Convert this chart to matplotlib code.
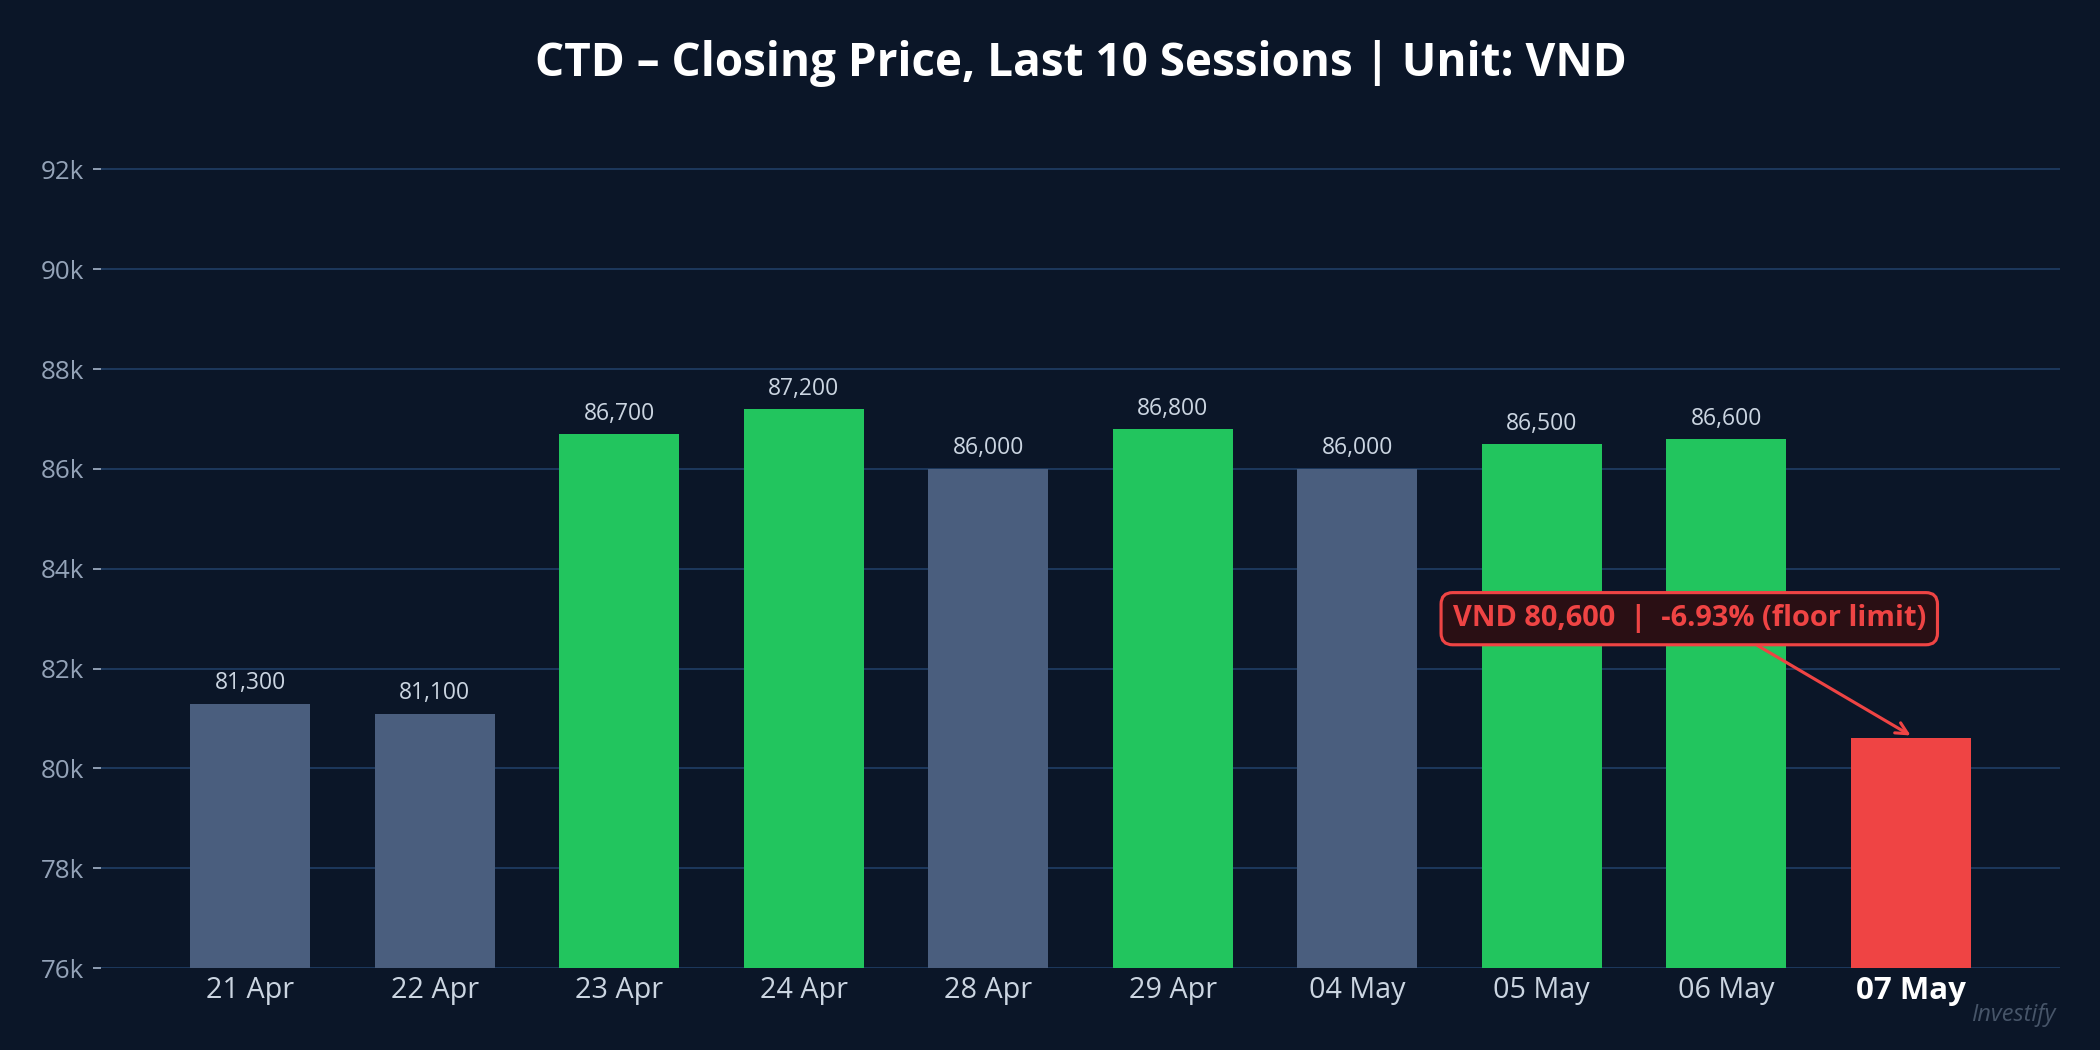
import matplotlib
matplotlib.use('Agg')
import matplotlib.pyplot as plt
from matplotlib.ticker import FuncFormatter

plt.rcParams['font.family'] = ['Open Sans', 'Noto Sans', 'DejaVu Sans']

# Datos: precio de cierre de CTD, últimas 10 sesiones
sesiones = ['21 Apr', '22 Apr', '23 Apr', '24 Apr', '28 Apr',
            '29 Apr', '04 May', '05 May', '06 May', '07 May']
cierre = [81300, 81100, 86700, 87200, 86000, 86800, 86000, 86500, 86600, 80600]
estado = ['flat', 'flat', 'up', 'up', 'flat', 'up', 'flat', 'up', 'up', 'down']
y_ticks = [76000, 78000, 80000, 82000, 84000, 86000, 88000, 90000, 92000]

fondo = '#0b1628'
colores = {'flat': '#4a5e7e', 'up': '#22c55e', 'down': '#ef4444'}

fig, ax = plt.subplots(figsize=(14, 7), dpi=150)
fig.patch.set_facecolor(fondo)
ax.set_facecolor(fondo)

x = list(range(len(sesiones)))
barras = ax.bar(x, cierre, width=0.65, color=[colores[e] for e in estado], zorder=3)

# Etiquetas de valor (menos la última, que va en la anotación)
for i, v in enumerate(cierre[:-1]):
    ax.text(i, v + 170, f'{v:,}', ha='center', va='bottom',
            fontsize=11, color='#cbd5e1', zorder=4)

ax.set_ylim(76000, 92450)
ax.set_xlim(-0.81, 9.81)
ax.set_yticks(y_ticks)
ax.yaxis.set_major_formatter(FuncFormatter(lambda v, p: f'{int(v / 1000)}k'))
ax.grid(axis='y', color='#1e3a5f', linewidth=0.9, zorder=0)
ax.set_axisbelow(True)

for s in ax.spines.values():
    s.set_visible(False)

ax.tick_params(axis='y', colors='#94a3b8', labelsize=12.5, length=4, width=0.9, pad=4)
ax.tick_params(axis='x', colors='#cbd5e1', labelsize=13.8, length=0, pad=4)
ax.set_xticks(x)
ax.set_xticklabels(sesiones)
ultima = ax.get_xticklabels()[-1]
ultima.set_fontweight('bold')
ultima.set_color('white')
ultima.set_fontsize(15)

ax.set_title('CTD – Closing Price, Last 10 Sessions | Unit: VND',
             fontsize=22, fontweight='bold', color='white', pad=34)

# Anotación del precio suelo
ax.annotate(f'VND {cierre[-1]:,}  |  -6.93% (floor limit)',
            xy=(9, cierre[-1] + 60), xytext=(7.8, 83000),
            ha='center', va='center', fontsize=13.9, fontweight='bold',
            color='#ef4444', zorder=6,
            bbox=dict(boxstyle='round,pad=0.4', fc='#2a0f14', ec='#ef4444', lw=1.5),
            arrowprops=dict(arrowstyle='->', color='#ef4444', lw=1.5,
                            shrinkA=0, shrinkB=0, relpos=(0.6, 0)))

fig.text(0.979, 0.022, 'Investify', ha='right', va='bottom', fontsize=11.3,
         style='italic', color='#475569')

plt.subplots_adjust(left=0.048, right=0.981, top=0.86, bottom=0.078)
plt.savefig('out.png', dpi=150, facecolor=fondo)
